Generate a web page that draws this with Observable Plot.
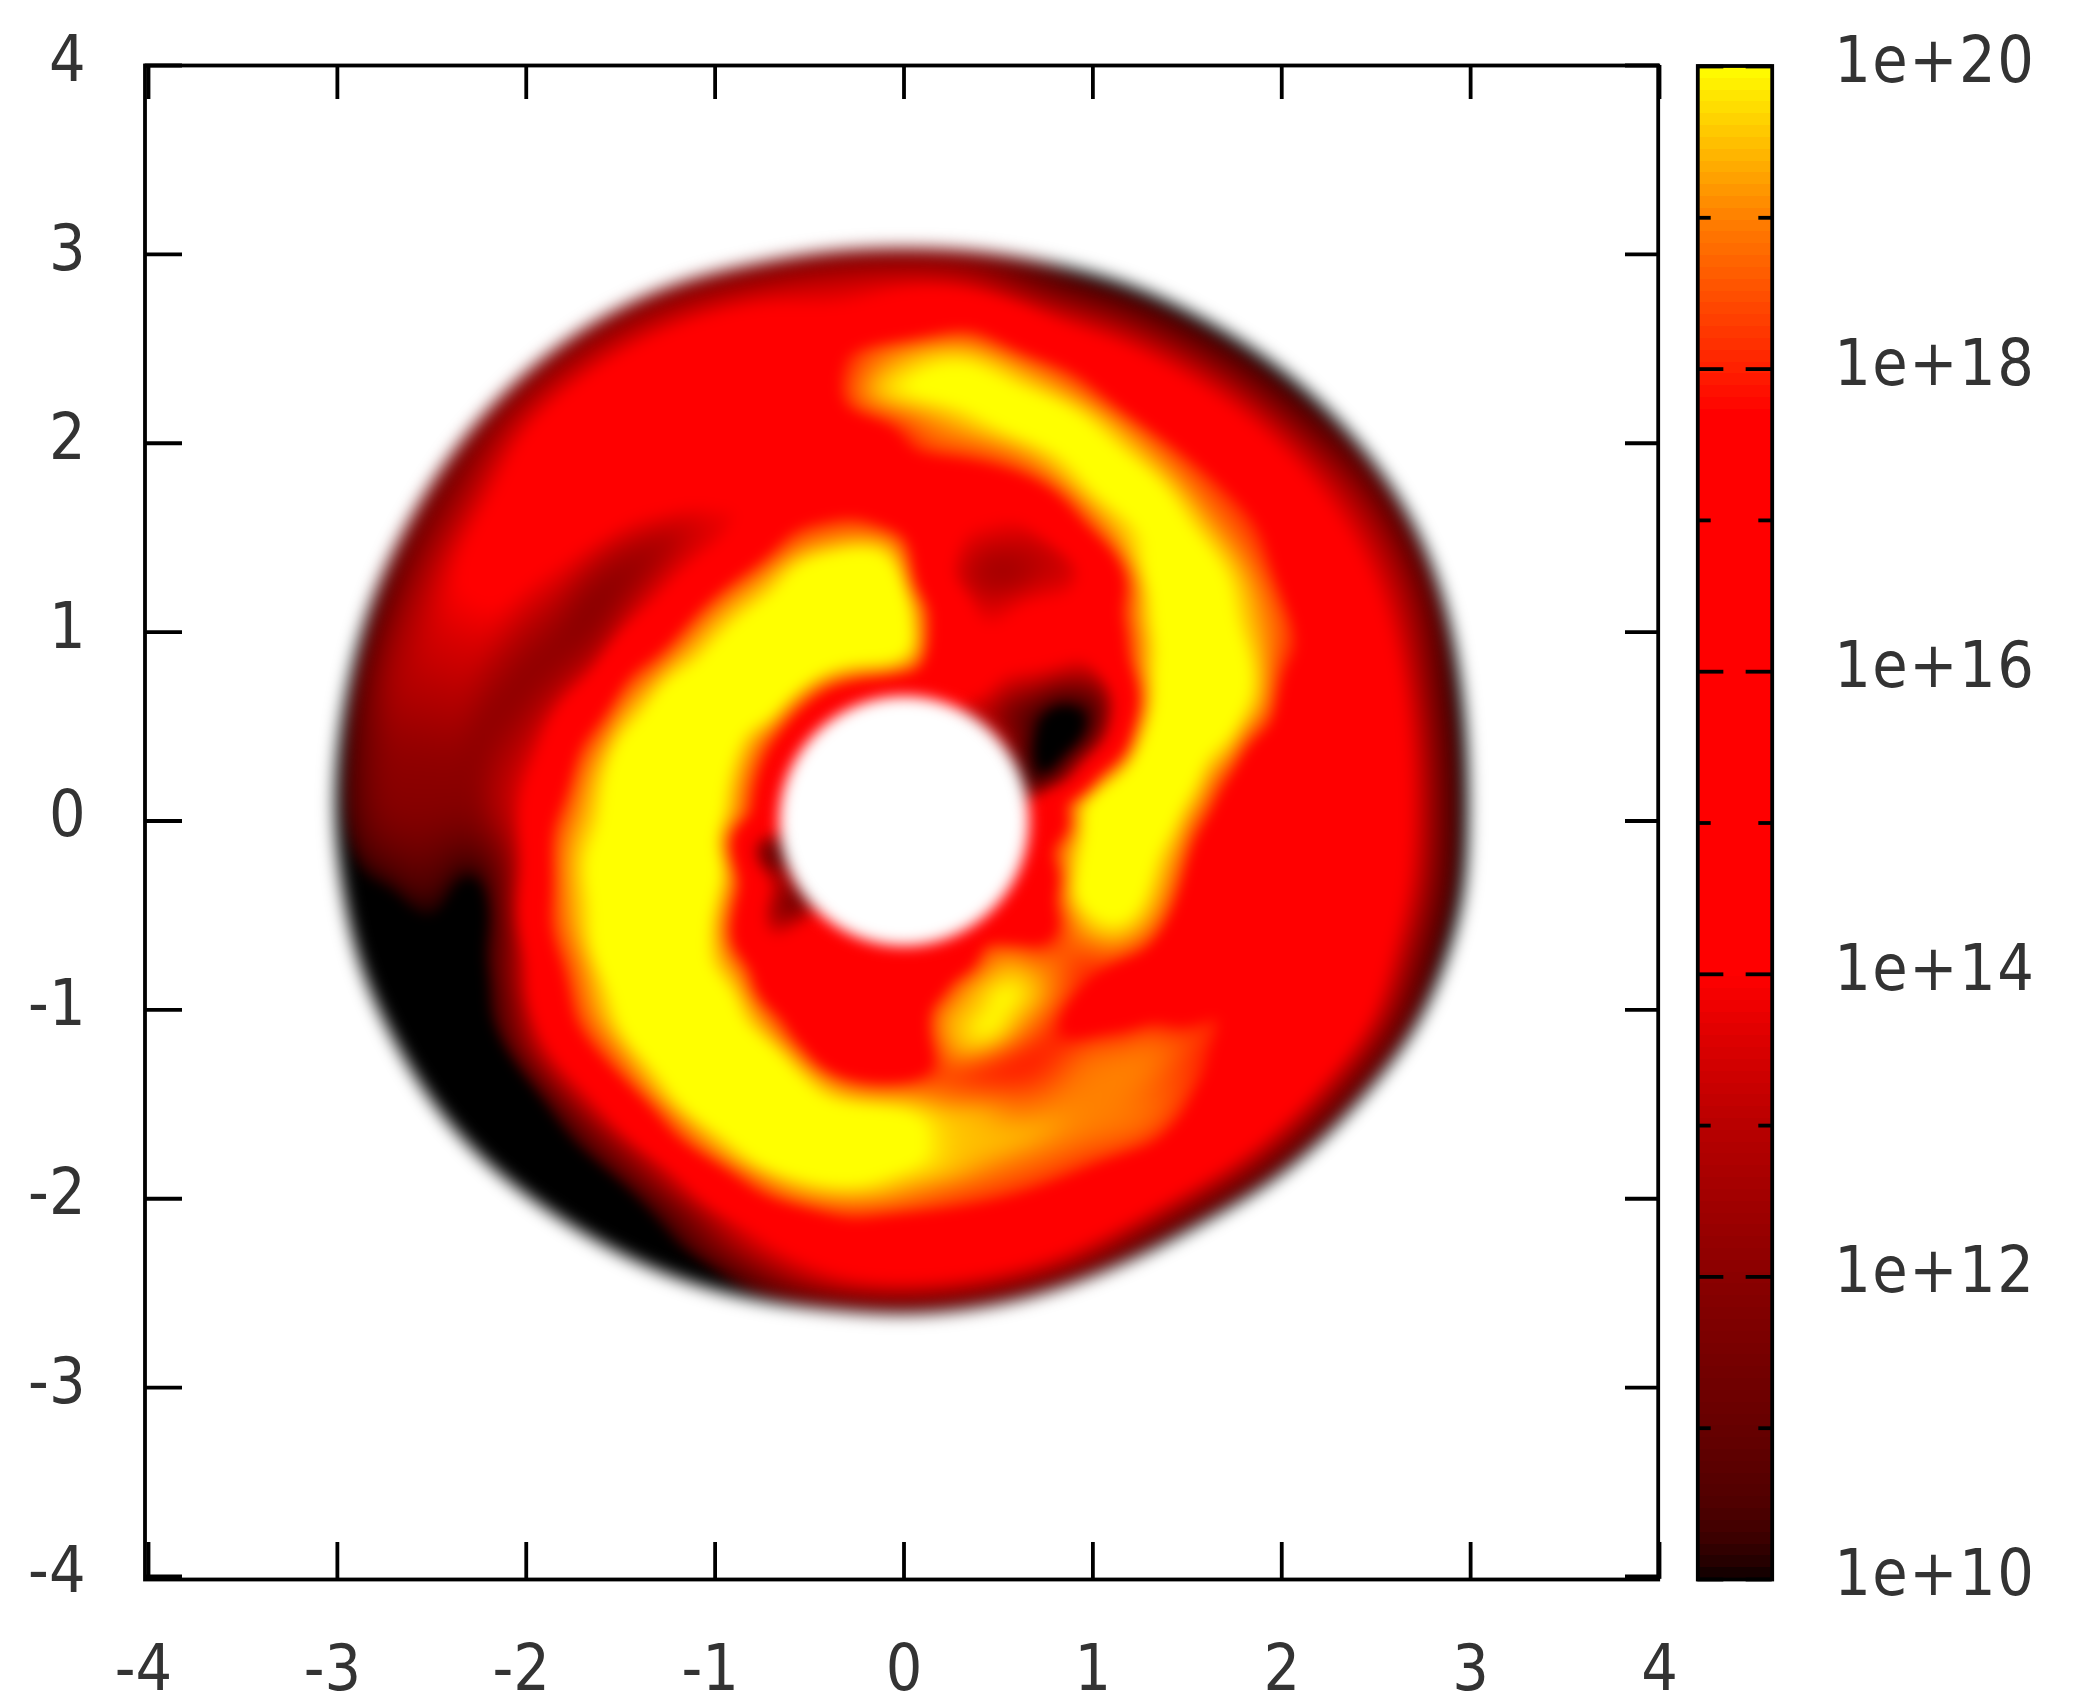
<!DOCTYPE html>
<html>
<head>
<meta charset="utf-8">
<script src="https://cdn.jsdelivr.net/npm/d3@7"></script>
<script src="https://cdn.jsdelivr.net/npm/@observablehq/plot@0.6"></script>
<style>
html,body{margin:0;padding:0;background:#fff}
#page{position:relative;width:2080px;height:1695px;overflow:hidden}
#page svg{position:absolute;left:0;top:0;background:transparent}
</style>
</head>
<body>
<div id="page"></div>
<script>
// axis ticks
const xTicks = [-4,-3,-2,-1,0,1,2,3,4];
const yTicks = [-4,-3,-2,-1,0,1,2,3,4];
// colour bar ticks (log10 of the value)
const barMajor = [10,12,14,16,18,20];
const barMinor = [11,13,15,17,19];
const barLabels = ["1e+10","1e+12","1e+14","1e+16","1e+18","1e+20"];
// palette: log10(value) -> colour
const colorStops  = [10,10.05,10.3,10.5,11,11.5,12,13,13.5,14,17.7,18,18.5,19,19.5,20];
const colorValues = ["#000000","#1c0000","#400000","#500000","#660000","#780000","#8a0000","#b80000","#d80000","#ff0000","#ff0000","#ff2000","#ff5000","#ff8000","#ffc000","#ffff00"];
// meaning of the characters in the rows below: log10(value); A is above the top of the colour bar
const levelValues = {0:9.6,B:10.4,1:11,2:12,3:13,4:13.5,5:14.3,6:18,7:18.5,8:19,9:19.5,A:20.4};
// inner edge of the disc and its outer edge for each ray (7.5 degree steps, counter-clockwise from +x)
const holeRadius = 0.66;
const rimRadius = [2.98,3.00,3.04,3.09,3.125,3.13,3.125,3.11,3.09,3.08,3.05,3.04,3.03,3.04,3.05,3.09,3.11,3.11,3.10,3.08,3.06,3.05,3.03,3.02,3.01,2.99,2.98,2.94,2.91,2.87,2.81,2.76,2.72,2.68,2.64,2.61,2.61,2.605,2.605,2.605,2.62,2.65,2.72,2.78,2.84,2.92,2.96,2.99];
// one row per ray, from the hole (left) to the rim (right)
const density = [
"559AAAA8655555555410",
"469AAAAA865555555410",
"10269AAAAA9755555410",
"100038AAAAA976555420",
"2000048AAAA986555420",
"31002468AAAA97655420",
"412455568AAA97655410",
"33455554589AA8655410",
"35555543469AA9755410",
"555543234579AA865410",
"555553345568AA975410",
"5687655555689AA98531",
"58AAAA9755678A985531",
"59AAAAA8655578765431",
"58AAAAA8655555555531",
"57AAAAA8655555555531",
"56AAAA97545555555531",
"56AAAA97543555555531",
"56AAAA97542355555531",
"56AAAA97542245555421",
"569AAAA8642234555421",
"569AAAA9753223444320",
"569AAAAA865322333320",
"569AAAAA975432222210",
"569AAAAA986432222210",
"326AAAAAA974100BB000",
"017AAAAAA98630000000",
"2469AAAAAA8653000000",
"23569AAAAA9865300000",
"113579AAAAA865300000",
"455579AAAAA975410000",
"5555579AAAAA86420000",
"5555568AAAAA97541000",
"55555569AAAAA8654200",
"555555579AAAA9755420",
"555555569AAAA9765530",
"555555579AAA98655530",
"55568877899997655530",
"55689996799987655530",
"55799A96678987655530",
"5689A986678887655520",
"56899976788888765520",
"55678765678877655520",
"55567665567766555520",
"55689986555665555520",
"558AAA97555555555520",
"569AAA97555555555410",
"569AAA97555555555410"
];

const nRay = density.length, nCol = density[0].length;
const grid = density.map(r => Array.from(r, c => levelValues[c]));
const bs = (a,b,c,d,t) => {const u=1-t;return (u*u*u*a+(3*t*t*t-6*t*t+4)*b+(-3*t*t*t+3*t*t+3*t+1)*c+t*t*t*d)/6;};
const mod = (i,n) => ((i%n)+n)%n;
function cyc(arr,p){const i=Math.floor(p),t=p-i;return bs(arr[mod(i-1,nRay)],arr[mod(i,nRay)],arr[mod(i+1,nRay)],arr[mod(i+2,nRay)],t);}
function rowAt(k,q){const row=grid[mod(k,nRay)],j=Math.min(Math.floor(q),nCol-2),t=q-j;
  return bs(row[Math.max(j-1,0)],row[j],row[j+1],row[Math.min(j+2,nCol-1)],t);}
function rayPos(x,y){let a=Math.atan2(y,x)*180/Math.PI;if(a<0)a+=360;return a/7.5;}
function sampleValue(x,y){
  const p=rayPos(x,y),r=Math.hypot(x,y),R=cyc(rimRadius,p);
  const q=Math.max(0,Math.min(1,(r-holeRadius)/(R-holeRadius)))*(nCol-1);
  const i=Math.floor(p),t=p-i;
  const v=bs(rowAt(i-1,q),rowAt(i,q),rowAt(i+1,q),rowAt(i+2,q),t);
  return Math.max(10,Math.min(20,v));
}
const step=(a,b,v)=>{const t=Math.max(0,Math.min(1,(v-a)/(b-a)));return t*t*(3-2*t);};
function sampleAlpha(x,y){
  const p=rayPos(x,y),r=Math.hypot(x,y),R=cyc(rimRadius,p);
  return step(holeRadius-0.05,holeRadius+0.05,r)*(1-step(R-0.07,R+0.07,r));
}

const colorScale={type:"linear",domain:colorStops,range:colorValues,interpolate:"rgb",clamp:true};
const font='"DejaVu Sans Condensed","DejaVu Sans"';
const tickLen=0.18, sw=3.8;
const xAxisOptions={anchor:"bottom",tickSize:0,tickPadding:68,fontSize:64,tickFormat:String,label:null};

const main=Plot.plot({
  width:2080,height:1695,marginLeft:148,marginRight:421,marginTop:65,marginBottom:119,
  x:{domain:[-4,4]},y:{domain:[-4,4]},
  color:colorScale,opacity:{type:"identity"},
  style:{fontFamily:font,background:"transparent",color:"#333"},
  marks:[
    Plot.raster({x1:-4,x2:4,y1:-4,y2:4,pixelSize:1,fill:sampleValue,fillOpacity:sampleAlpha}),
    Plot.ruleX(xTicks,{x:d=>d,y1:-4.015,y2:-4+tickLen,stroke:"#000",strokeWidth:sw}),
    Plot.ruleX(xTicks,{x:d=>d,y1:4,y2:4-tickLen,stroke:"#000",strokeWidth:sw}),
    Plot.ruleY(yTicks,{y:d=>d,x1:-4.018,x2:-4+tickLen,stroke:"#000",strokeWidth:sw}),
    Plot.ruleY(yTicks,{y:d=>d,x1:4,x2:4-tickLen,stroke:"#000",strokeWidth:sw}),
    Plot.frame({stroke:"#000",strokeWidth:sw,insetLeft:-3.5,insetBottom:-3,insetRight:1.3}),
    Plot.axisX(xTicks.filter(d=>d<0),{...xAxisOptions,dx:-5}),
    Plot.axisX(xTicks.filter(d=>d>=0),xAxisOptions),
    Plot.axisY(yTicks,{anchor:"left",tickSize:0,tickPadding:63,fontSize:64,tickFormat:String,label:null,dy:-5})
  ]
});
main.querySelector("image").style.filter="blur(6px)";

const bandCount=128, bandStep=10/bandCount;
const bands=d3.range(bandCount).map(i=>10+i*bandStep);
const bar=Plot.plot({
  width:2080,height:1695,marginLeft:1697.3,marginRight:308.3,marginTop:66,marginBottom:116,
  x:{domain:[0,1],axis:null},y:{domain:[10,20],axis:null},
  color:colorScale,
  style:{fontFamily:font,background:"transparent",color:"#333",letterSpacing:"1.5px"},
  marks:[
    Plot.rectY(bands,{x1:0,x2:1,y1:d=>d,y2:d=>d+bandStep,fill:d=>d+bandStep/2,shapeRendering:"crispEdges"}),
    Plot.ruleY(barMajor,{y:d=>d,x1:0,x2:0.35,stroke:"#000",strokeWidth:sw}),
    Plot.ruleY(barMajor,{y:d=>d,x1:0.65,x2:1,stroke:"#000",strokeWidth:sw}),
    Plot.ruleY(barMinor,{y:d=>d,x1:0,x2:0.18,stroke:"#000",strokeWidth:sw}),
    Plot.ruleY(barMinor,{y:d=>d,x1:0.82,x2:1,stroke:"#000",strokeWidth:sw}),
    Plot.frame({stroke:"#000",strokeWidth:sw,insetTop:-0.5}),
    Plot.text(barMajor,{x:()=>1,y:d=>d,text:(d,i)=>barLabels[i],dx:62,dy:-5,textAnchor:"start",fontSize:64,fill:"#333"})
  ]
});
document.getElementById("page").append(main,bar);
</script>
</body>
</html>
